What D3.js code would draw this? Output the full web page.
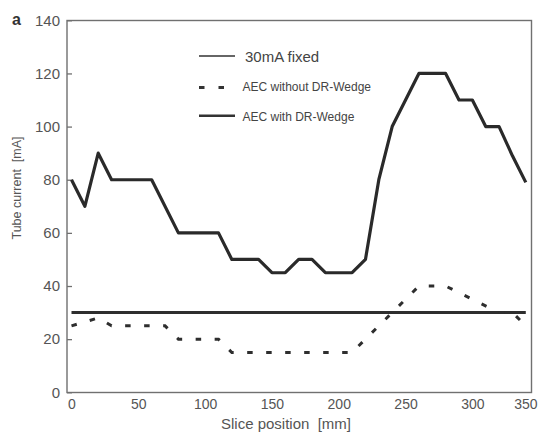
<!DOCTYPE html>
<html>
<head>
<meta charset="utf-8">
<script src="https://cdn.jsdelivr.net/npm/d3@7"></script>
<style>
  html, body { margin: 0; padding: 0; background: #fff; }
  svg { display: block; font-family: "Liberation Sans", Arial, sans-serif; }
</style>
</head>
<body>
<div id="chart"></div>
<script>
// slice position [mm] and tube current [mA]
const wedgePos = [0, 10, 20, 30, 60, 80, 110, 120, 140, 150, 160, 170, 180, 190, 210,
  220, 230, 240, 250, 260, 280, 290, 300, 310, 320, 330, 340];
const wedgeMA = [80, 70, 90, 80, 80, 60, 60, 50, 50, 45, 45, 50, 50, 45, 45,
  50, 80, 100, 110, 120, 120, 110, 110, 100, 100, 89, 79];

const noWedgePos = [0, 20, 30, 70, 80, 110, 120, 210, 260, 280, 300, 320, 330, 340];
const noWedgeMA = [25, 28, 25, 25, 20, 20, 15, 15, 40, 40, 35, 30, 30, 25];

const fixedPos = [0, 340];
const fixedMA = [30, 30];

const xTicks = [0, 50, 100, 150, 200, 250, 300, 350];
const yTicks = [0, 20, 40, 60, 80, 100, 120, 140];
const legendLabels = ['30mA fixed', 'AEC without DR-Wedge', 'AEC with DR-Wedge'];

const width = 538;
const height = 433;
const frame = { left: 67, top: 20.5, right: 531.5, bottom: 392.5 };

const x = d3.scaleLinear().domain([0, 340]).range([71.5, 525.8]);
const y = d3.scaleLinear().domain([0, 140]).range([392.3, 20.3]);

const line = d3.line()
  .x(d => x(d[0]))
  .y(d => y(d[1]));

const zip = (a, b) => a.map((v, i) => [v, b[i]]);

const svg = d3.select('#chart').append('svg')
  .attr('width', width)
  .attr('height', height);

// frame
svg.append('rect')
  .attr('x', frame.left)
  .attr('y', frame.top)
  .attr('width', frame.right - frame.left)
  .attr('height', frame.bottom - frame.top)
  .style('fill', 'none')
  .style('stroke', '#707070')
  .style('stroke-width', 1.4);

// y axis, inward ticks
const yAxis = svg.append('g')
  .attr('transform', `translate(${frame.left},0)`)
  .call(d3.axisLeft(y).tickValues(yTicks).tickSize(-5).tickPadding(7));
yAxis.select('.domain').remove();
yAxis.selectAll('line').style('stroke', '#707070').style('stroke-width', 1.3);
yAxis.selectAll('text')
  .style('font-size', '15px')
  .style('fill', '#555')
  .style('font-family', '"Liberation Sans", Arial, sans-serif');

// x axis, labels only
const xAxis = svg.append('g')
  .attr('transform', `translate(0,${y(0)})`)
  .call(d3.axisBottom(x).tickValues(xTicks).tickSize(0).tickPadding(6.5));
xAxis.select('.domain').remove();
xAxis.selectAll('text')
  .style('font-size', '14px')
  .style('fill', '#555')
  .style('font-family', '"Liberation Sans", Arial, sans-serif')
  .filter(d => d === 350)
  .attr('text-anchor', 'end')
  .attr('dx', '-0.15em');

// axis titles
svg.append('text')
  .attr('x', 286)
  .attr('y', 429)
  .attr('text-anchor', 'middle')
  .style('font-size', '15px')
  .style('fill', '#555')
  .text('Slice position\u00a0\u00a0[mm]');

svg.append('text')
  .attr('transform', 'translate(21,188) rotate(-90)')
  .attr('text-anchor', 'middle')
  .style('font-size', '12.5px')
  .style('fill', '#555')
  .text('Tube current\u00a0\u00a0[mA]');

svg.append('text')
  .attr('x', 12)
  .attr('y', 25)
  .style('font-size', '16px')
  .style('font-weight', 'bold')
  .style('fill', '#333')
  .text('a');

// series
svg.append('path')
  .datum(zip(fixedPos, fixedMA))
  .style('fill', 'none')
  .style('stroke', '#2e2e2e')
  .style('stroke-width', 3)
  .attr('d', line);

svg.append('path')
  .datum(zip(noWedgePos, noWedgeMA))
  .style('fill', 'none')
  .style('stroke', '#2e2e2e')
  .style('stroke-width', 3)
  .style('stroke-dasharray', '5.5,13.5')
  .attr('d', line);

svg.append('path')
  .datum(zip(wedgePos, wedgeMA))
  .style('fill', 'none')
  .style('stroke', '#2a2a2a')
  .style('stroke-width', 3.2)
  .style('stroke-linejoin', 'round')
  .attr('d', line);

// legend
const legendRows = [
  { y: 56, textY: 62, size: 15, width: 1.5, dash: null },
  { y: 87.5, textY: 91, size: 12, width: 3, dash: '5.5,14' },
  { y: 115.7, textY: 120.5, size: 12, width: 2.6, dash: null }
];

const legend = svg.append('g').attr('class', 'legend');
legendRows.forEach((r, i) => {
  legend.append('line')
    .attr('x1', 199)
    .attr('x2', 235)
    .attr('y1', r.y)
    .attr('y2', r.y)
    .style('stroke', '#333')
    .style('stroke-width', r.width)
    .style('stroke-dasharray', r.dash);
  legend.append('text')
    .attr('x', i === 0 ? 245 : 242.5)
    .attr('y', r.textY)
    .style('font-size', `${r.size}px`)
    .style('fill', '#444')
    .text(legendLabels[i]);
});
</script>
</body>
</html>
